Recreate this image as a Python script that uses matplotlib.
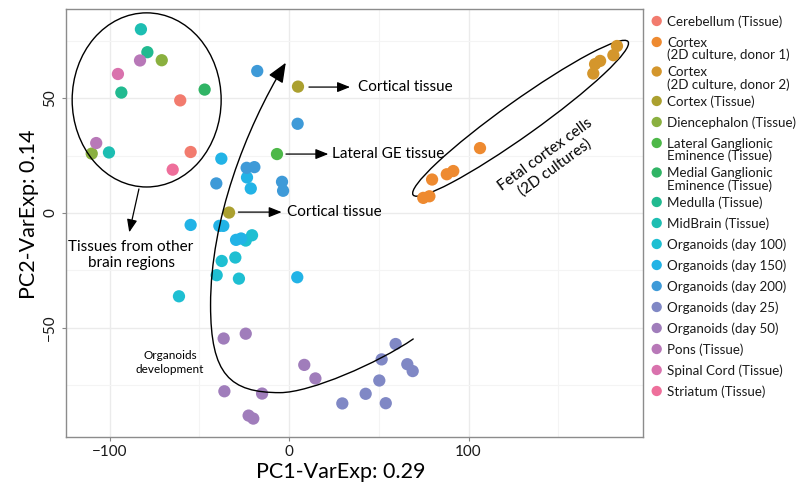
import matplotlib
matplotlib.use("Agg")
import matplotlib.pyplot as plt
from matplotlib.patches import Ellipse, FancyArrowPatch
from matplotlib.path import Path
from matplotlib.transforms import ScaledTranslation

plt.rcParams['font.family'] = ['Lato', 'DejaVu Sans']

# PCA scores per sample group (PC1, PC2)
groups = [
    "Cerebellum (Tissue)",
    "Cortex\n(2D culture, donor 1)",
    "Cortex\n(2D culture, donor 2)",
    "Cortex (Tissue)",
    "Diencephalon (Tissue)",
    "Lateral Ganglionic\nEminence (Tissue)",
    "Medial Ganglionic\nEminence (Tissue)",
    "Medulla (Tissue)",
    "MidBrain (Tissue)",
    "Organoids (day 100)",
    "Organoids (day 150)",
    "Organoids (day 200)",
    "Organoids (day 25)",
    "Organoids (day 50)",
    "Pons (Tissue)",
    "Spinal Cord (Tissue)",
    "Striatum (Tissue)",
]
colors = ["#F27B6E", "#EE8A30", "#D4962C", "#ABA02F", "#8AB03F", "#4DB848",
          "#30B465", "#21BA90", "#1DBEB2", "#1EBFD2", "#22B3E6", "#3E9AD8",
          "#8088C5", "#A07DBB", "#B878B8", "#D972AD", "#EE6F9B"]

pc1 = [
    [-60.6, -54.8],
    [106.4, 91.5, 87.9, 79.7, 78.2, 74.8],
    [182.7, 180.7, 173.3, 170.5, 169.5],
    [5.0, -33.4],
    [-70.9, -109.9],
    [-6.7],
    [-47.0],
    [-78.9, -93.4],
    [-82.5, -100.3],
    [-61.3, -37.5, -29.9, -40.3, -27.9, -24.1, -20.6],
    [-37.7, -23.4, -21.3, -54.8, -38.8, -36.6, -29.5, -26.7, 4.6],
    [-17.7, 4.8, -23.6, -19.3, -40.5, -3.9, -3.3],
    [59.4, 51.6, 65.9, 68.9, 50.3, 42.7, 29.7, 53.9],
    [-36.4, -24.1, 8.5, 14.7, -36.0, -15.0, -22.5, -19.9],
    [-83.0, -107.4],
    [-95.3],
    [-64.8],
]
pc2 = [
    [49.1, 26.6],
    [28.3, 18.3, 16.9, 14.6, 7.3, 6.6],
    [72.8, 68.8, 66.3, 64.9, 60.8],
    [55.1, 0.2],
    [66.6, 25.9],
    [25.7],
    [53.8],
    [70.1, 52.5],
    [80.1, 26.4],
    [-36.3, -20.9, -19.4, -27.1, -28.6, -12.0, -9.7],
    [23.7, 15.5, 10.7, -5.2, -5.6, -5.6, -11.7, -11.1, -28.0],
    [61.9, 38.9, 19.7, 20.0, 12.9, 13.6, 9.7],
    [-57.1, -63.8, -65.9, -68.9, -73.0, -78.8, -83.0, -82.9],
    [-54.7, -52.6, -66.2, -72.1, -77.7, -78.7, -88.3, -89.6],
    [66.5, 30.5],
    [60.6],
    [18.9],
]

W, H = 802, 484
fig = plt.figure(figsize=(W / 100, H / 100), dpi=100)
ax = fig.add_axes([65.7 / W, (H - 436.7) / H, (643 - 65.7) / W, (436.7 - 9.3) / H])

for xs, ys, c in zip(pc1, pc2, colors):
    ax.scatter(xs, ys, s=78, color=c, edgecolors="none", zorder=3)

ax.set_xlim(-124.4, 197.2)
ax.set_ylim(-97.5, 88.8)
ax.set_xticks([-100, 0, 100])
ax.set_yticks([-50, 0, 50])
ax.set_xticks([-50, 50, 150], minor=True)
ax.set_yticks([-75, -25, 25, 75], minor=True)
ax.grid(which="major", color="#EBEBEB", lw=1.0)
ax.grid(which="minor", color="#F4F4F4", lw=0.8)
ax.set_axisbelow(True)
ax.tick_params(which="major", length=3, color="#888888", labelsize=11, pad=3, labelcolor="#1a1a1a")
ax.tick_params(which="minor", length=0)
for lab in ax.get_yticklabels():
    lab.set_rotation(90)
    lab.set_va("center")
for sp in ax.spines.values():
    sp.set_color("#8C8C8C")
    sp.set_linewidth(1.0)

ax.set_xlabel("PC1-VarExp: 0.29", fontsize=15.5, va="baseline")
ax.xaxis.set_label_coords(0.477, -0.0955)
ax.set_ylabel("PC2-VarExp: 0.14", fontsize=15.5, va="baseline", rotation_mode="anchor")
ax.yaxis.set_label_coords(-0.053, 0.52)

# annotations
arrow_kw = dict(arrowstyle="-|>,head_length=0.55,head_width=0.22", color="black",
                lw=0.9, shrinkA=0, shrinkB=0, mutation_scale=14)
ax.annotate("", xy=(34.0, 54.9), xytext=(11.1, 54.9), arrowprops=arrow_kw)
ax.text(38.4, 54.9, "Cortical tissue", fontsize=11, va="center")
ax.annotate("", xy=(21.9, 25.7), xytext=(-1.7, 25.7), arrowprops=arrow_kw)
ax.text(24.0, 25.7, "Lateral GE tissue", fontsize=11, va="center")
ax.annotate("", xy=(-4.1, 0.4), xytext=(-28.2, 0.4), arrowprops=arrow_kw)
ax.text(-0.9, 0.4, "Cortical tissue", fontsize=11, va="center")

ax.add_patch(Ellipse((-79.3, 49.3), 83.0, 75.9, fill=False, ec="black", lw=1.0, zorder=4))
ax.annotate("", xy=(-89.0, -8.4), xytext=(-83.6, 10.5), arrowprops=arrow_kw)
ax.text(-88.0, -18.3, "Tissues from other\nbrain regions", fontsize=11, ha="center",
        va="center", linespacing=1.15)

# fetal cultures outline, sized in inches so it stays a true ellipse
fetal = Ellipse((0, 0), 2.64, 0.35, angle=35.5, fill=False, ec="black", lw=1.0,
                transform=fig.dpi_scale_trans + ScaledTranslation(129.0, 41.3, ax.transData))
ax.add_patch(fetal)
ax.text(145.5, 22.5, "Fetal cortex cells\n(2D cultures)", fontsize=11, rotation=36,
        rotation_mode="anchor", ha="center", va="center", linespacing=1.15)

# development trajectory of organoids
verts = [(69.2, -54.9), (49.6, -65.4), (11.7, -78.3), (-5.0, -78.3),
         (-32.9, -78.3), (-43.7, -70.6), (-43.7, -40.1),
         (-43.7, -3.1), (-24.5, 36.2), (-1.8, 65.5)]
codes = [Path.MOVETO] + [Path.CURVE4] * 9
traj = FancyArrowPatch(path=Path(verts, codes),
                       arrowstyle="-|>,head_length=1.2,head_width=0.5",
                       mutation_scale=10, color="black", lw=1.0, zorder=4)
ax.add_patch(traj)
ax.text(-66.3, -65.0, "Organoids\ndevelopment", fontsize=8.5, ha="center", va="center",
        linespacing=1.35)

# legend on the right; wrapped labels keep their marker on the first line
lax = fig.add_axes([0, 0, 1, 1], zorder=-1)
lax.set_xlim(0, W)
lax.set_ylim(H, 0)
lax.axis("off")
y = 21
for name, c in zip(groups, colors):
    lax.scatter(656.7, y, s=55, color=c, edgecolors="none")
    lines = name.split("\n")
    for i, line in enumerate(lines):
        lax.text(667, y + 4.6 + 12.8 * i, line, fontsize=9.6, va="baseline",
                 color="#1a1a1a")
    y += 21 + 8.5 * (len(lines) - 1)

fig.savefig("out.png", dpi=100)
